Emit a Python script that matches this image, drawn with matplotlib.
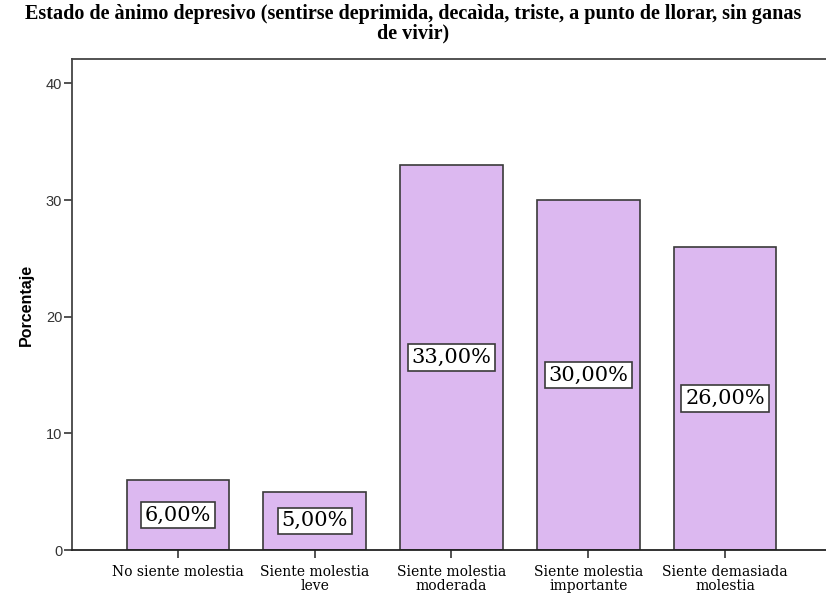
import matplotlib
matplotlib.use("Agg")
import matplotlib.pyplot as plt

categories = ["No siente molestia", "Siente molestia\nleve", "Siente molestia\nmoderada",
              "Siente molestia\nimportante", "Siente demasiada\nmolestia"]
values = [6, 5, 33, 30, 26]
value_labels = ["6,00%", "5,00%", "33,00%", "30,00%", "26,00%"]
yticks = [0, 10, 20, 30, 40]
title = ("Estado de ànimo depresivo (sentirse deprimida, decaìda, triste, a punto de llorar, sin ganas\n"
         "de vivir)")

fig = plt.figure(figsize=(8.26, 5.98), dpi=100)
W, H = 826, 598
left, right, top, bottom = 72, 831, 59, 550
ax = fig.add_axes([left / W, 1 - bottom / H, (right - left) / W, (bottom - top) / H])

x = list(range(len(categories)))
ax.bar(x, values, width=0.75, color="#dcb8f0", edgecolor="#3a3a3a", linewidth=1.2, zorder=2)

for xi, v, lab in zip(x, values, value_labels):
    ax.text(xi, v / 2, lab, ha="center", va="center", fontsize=15, family="DejaVu Serif",
            color="black", zorder=3,
            bbox=dict(boxstyle="square,pad=0.18", facecolor="white", edgecolor="#3a3a3a", linewidth=1.2))

ax.set_xlim(-0.775, 4.775)
ax.set_ylim(0, 42.1)
ax.set_yticks(yticks)
ax.set_yticklabels([str(t) for t in yticks], family="Liberation Sans", fontsize=10.5, color="#333333")
ax.set_xticks(x)
ax.set_xticklabels(categories, family="DejaVu Serif", fontsize=10, linespacing=0.95)
ax.tick_params(axis="both", direction="out", length=6, width=1.3, color="#444444")
ax.tick_params(axis="x", pad=5)
ax.tick_params(axis="y", pad=1)

for s in ["left", "bottom", "top", "right"]:
    ax.spines[s].set_color("#444444")
    ax.spines[s].set_linewidth(1.3)
ax.spines["bottom"].set_color("#222222")

ax.set_ylabel("Porcentaje", family="Liberation Sans", fontsize=11.5, fontweight="bold", labelpad=9)

fig.text(0.5, 1 - 24 / H, title, ha="center", va="center", family="Liberation Serif",
         fontweight="bold", fontsize=14.5, linespacing=0.98)

fig.savefig("out.png", dpi=100)
